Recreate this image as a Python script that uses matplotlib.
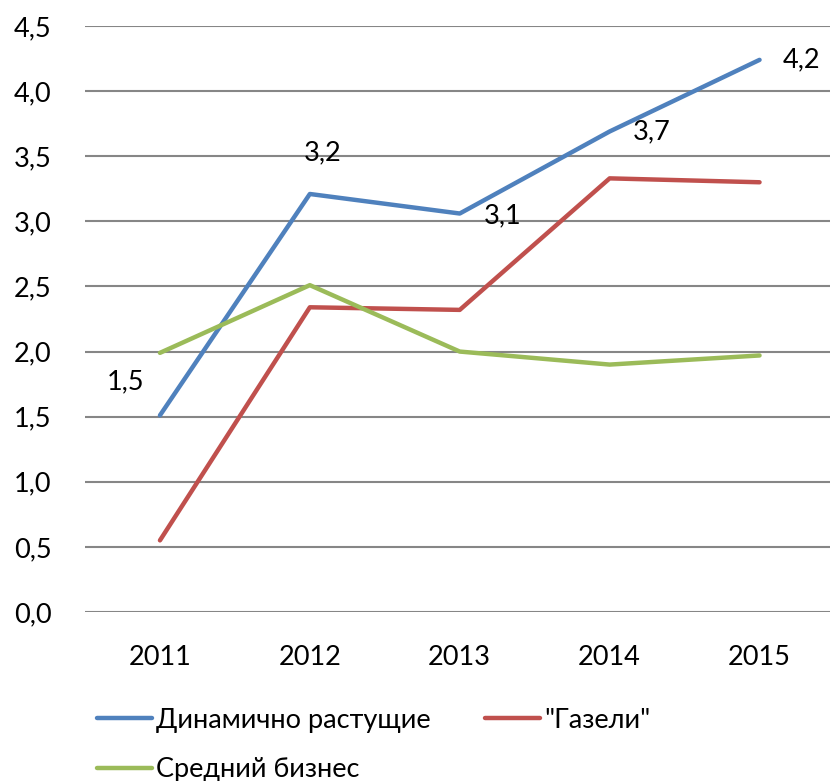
import matplotlib
matplotlib.use("Agg")
import matplotlib.pyplot as plt

plt.rcParams['font.family'] = ['Lato', 'DejaVu Sans']

years = ['2011', '2012', '2013', '2014', '2015']
dynamic = [1.51, 3.21, 3.06, 3.69, 4.24]
gazelles = [0.55, 2.34, 2.32, 3.33, 3.30]
medium = [1.99, 2.51, 2.00, 1.90, 1.97]
dynamic_labels = ['1,5', '3,2', '3,1', '3,7', '4,2']
yticks = [0.0, 0.5, 1.0, 1.5, 2.0, 2.5, 3.0, 3.5, 4.0, 4.5]

fig = plt.figure(figsize=(8.30, 7.81), dpi=100)
ax = fig.add_axes([85 / 830, 169 / 781, 745 / 830, 586 / 781])

x = range(len(years))
l1, = ax.plot(x, dynamic, color='#4F81BD', lw=3.2, label='Динамично растущие', solid_capstyle='round')
l2, = ax.plot(x, gazelles, color='#C0504D', lw=3.2, label='"Газели"', solid_capstyle='round')
l3, = ax.plot(x, medium, color='#9BBB59', lw=3.2, label='Средний бизнес', solid_capstyle='round')

# data labels for the blue series
offsets = [(-25, 24), (9, 30), (31, -2), (30, 0), (30, 0)]
for i, (lab, off) in enumerate(zip(dynamic_labels, offsets)):
    ax.annotate(lab, (i, dynamic[i]), xytext=off, textcoords='offset points',
                ha='center', va='center', fontsize=19.5)

ax.set_xlim(-0.5, 4.47)
ax.set_ylim(0, 4.5)
ax.set_yticks(yticks)
ax.set_yticklabels([f"{v:.1f}".replace('.', ',') for v in yticks])
ax.set_xticks(list(x))
ax.set_xticklabels(years)
ax.tick_params(length=0, labelsize=19.5, pad=24)
ax.tick_params(axis='y', pad=24)
ax.grid(axis='y', color='#868686', lw=1.5)
ax.set_axisbelow(True)
for s in ax.spines.values():
    s.set_visible(False)

# row-major order: matplotlib fills columns first
leg = ax.legend([l1, l3, l2], [l1.get_label(), l3.get_label(), l2.get_label()],
                loc='upper left', bbox_to_anchor=(0.001, -0.145), ncol=2, frameon=False,
                fontsize=19.5, handlelength=2.05, handletextpad=0.15, columnspacing=2.0,
                labelspacing=0.9, borderaxespad=0)
for h in leg.get_lines():
    h.set_solid_capstyle('round')

plt.savefig("out.png", dpi=100)
plt.close()
